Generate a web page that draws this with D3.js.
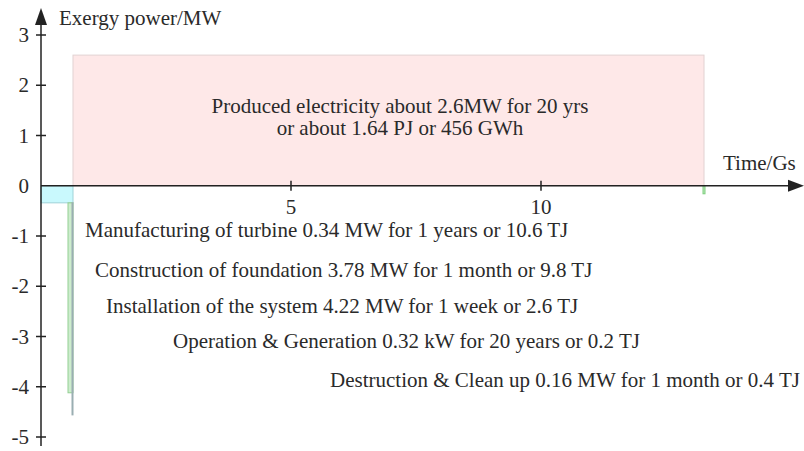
<!DOCTYPE html>
<meta charset="utf-8">
<style>
    body { margin: 0; background: #fff; }
</style>
<body>
    <div id="chart"></div>

    <script src="https://d3js.org/d3.v7.min.js"></script>

    <script>
        // ticks on both axes
        var xTicks = [5, 10]
        var yTicks = [-5, -4, -3, -2, -1, 0, 1, 2, 3]

        // produced electricity block (time in Gs, power in MW) - schematic widths
        var produced = { x0: 0.64, x1: 13.26, value: 2.6 }
        var producedText = ['Produced electricity about 2.6MW for 20 yrs', 'or about 1.64 PJ or 456 GWh']

        // consumption phases: start/end time, top and bottom power
        var phaseNames = ['Manufacturing', 'Construction', 'Installation', 'Destruction']
        var phaseX0 = [0, 0.54, 0.62, 13.24]
        var phaseX1 = [0.64, 0.64, 0.64, 13.28]
        var phaseTop = [0, -0.34, -0.34, 0]
        var phaseBottom = [-0.34, -4.12, -4.56, -0.16]
        var phaseFill = ['#c9f9fd', '#cdeccd', '#c6d0d2', '#b8e6b8']
        var phaseStroke = ['#9fd3d8', '#93cf93', '#9aaeb2', '#7fcf7f']

        var phaseText = [
            'Manufacturing of turbine 0.34 MW for 1 years or 10.6 TJ',
            'Construction of foundation 3.78 MW for 1 month or 9.8 TJ',
            'Installation of the system 4.22 MW for 1 week or 2.6 TJ',
            'Operation & Generation 0.32 kW for 20 years or 0.2 TJ',
            'Destruction & Clean up 0.16 MW for 1 month or 0.4 TJ'
        ]

        var width = 804
        var height = 451
        var fontSize = '21px'

        var x = d3.scaleLinear().domain([0, 15]).range([41, 791])
        var y = d3.scaleLinear().domain([-5, 3]).range([437, 35])

        var svg = d3.select('#chart')
            .append('svg')
            .attr('width', width)
            .attr('height', height)
            .style('font-family', '"Liberation Serif", "DejaVu Serif", serif')
            .style('fill', '#2a2a2a')

        // produced block
        svg.append('rect')
            .attr('x', x(produced.x0))
            .attr('y', y(produced.value))
            .attr('width', x(produced.x1) - x(produced.x0))
            .attr('height', y(0) - y(produced.value))
            .style('fill', '#fee8e8')
            .style('stroke', '#e2d2d2')
            .style('stroke-width', 1)

        svg.selectAll('text.produced')
            .data(producedText)
            .enter().append('text')
            .attr('class', 'produced')
            .attr('x', 400)
            .attr('y', function (d, i) { return 113 + i * 22 })
            .attr('text-anchor', 'middle')
            .style('font-size', fontSize)
            .text(function (d) { return d })

        // consumption phases
        svg.selectAll('rect.phase')
            .data(phaseNames)
            .enter().append('rect')
            .attr('class', 'phase')
            .attr('x', function (d, i) { return x(phaseX0[i]) })
            .attr('y', function (d, i) { return y(phaseTop[i]) })
            .attr('width', function (d, i) { return x(phaseX1[i]) - x(phaseX0[i]) })
            .attr('height', function (d, i) { return y(phaseBottom[i]) - y(phaseTop[i]) })
            .style('fill', function (d, i) { return phaseFill[i] })
            .style('stroke', function (d, i) { return phaseStroke[i] })
            .style('stroke-width', 1)

        var textX = [85, 95, 106, 173, 330]
        var textY = [237, 277, 313, 348, 387]
        svg.selectAll('text.phase')
            .data(phaseText)
            .enter().append('text')
            .attr('class', 'phase')
            .attr('x', function (d, i) { return textX[i] })
            .attr('y', function (d, i) { return textY[i] })
            .style('font-size', fontSize)
            .text(function (d) { return d })

        // axes
        var axisColor = '#222'
        svg.append('line')
            .attr('x1', x(0)).attr('x2', 790)
            .attr('y1', y(0)).attr('y2', y(0))
            .style('stroke', axisColor).style('stroke-width', 1.5)
        svg.append('path')
            .attr('d', 'M804,' + y(0) + 'L788,' + (y(0) - 6) + 'L788,' + (y(0) + 6) + 'Z')
            .style('fill', axisColor)

        svg.append('line')
            .attr('x1', x(0)).attr('x2', x(0))
            .attr('y1', 446).attr('y2', 22)
            .style('stroke', axisColor).style('stroke-width', 1.5)
        svg.append('path')
            .attr('d', 'M' + x(0) + ',8L' + (x(0) - 6) + ',25L' + (x(0) + 6) + ',25Z')
            .style('fill', axisColor)

        // y ticks
        svg.selectAll('line.ytick')
            .data(yTicks.filter(function (d) { return d !== 0 }))
            .enter().append('line')
            .attr('class', 'ytick')
            .attr('x1', x(0) - 5).attr('x2', x(0) + 5)
            .attr('y1', function (d) { return y(d) })
            .attr('y2', function (d) { return y(d) })
            .style('stroke', axisColor).style('stroke-width', 1.5)

        svg.selectAll('text.ytick')
            .data(yTicks)
            .enter().append('text')
            .attr('class', 'ytick')
            .attr('x', 29)
            .attr('y', function (d) { return y(d) + 7 })
            .attr('text-anchor', 'end')
            .style('font-size', fontSize)
            .text(function (d) { return d })

        // x ticks
        svg.selectAll('line.xtick')
            .data(xTicks)
            .enter().append('line')
            .attr('class', 'xtick')
            .attr('x1', function (d) { return x(d) })
            .attr('x2', function (d) { return x(d) })
            .attr('y1', y(0) - 5).attr('y2', y(0) + 5)
            .style('stroke', axisColor).style('stroke-width', 1.5)

        svg.selectAll('text.xtick')
            .data(xTicks)
            .enter().append('text')
            .attr('class', 'xtick')
            .attr('x', function (d) { return x(d) })
            .attr('y', 214)
            .attr('text-anchor', 'middle')
            .style('font-size', fontSize)
            .text(function (d) { return d })

        // axis titles
        svg.append('text')
            .attr('x', 59).attr('y', 25)
            .style('font-size', fontSize)
            .text('Exergy power/MW')

        svg.append('text')
            .attr('x', 723).attr('y', 170)
            .style('font-size', fontSize)
            .text('Time/Gs')
    </script>
</body>
